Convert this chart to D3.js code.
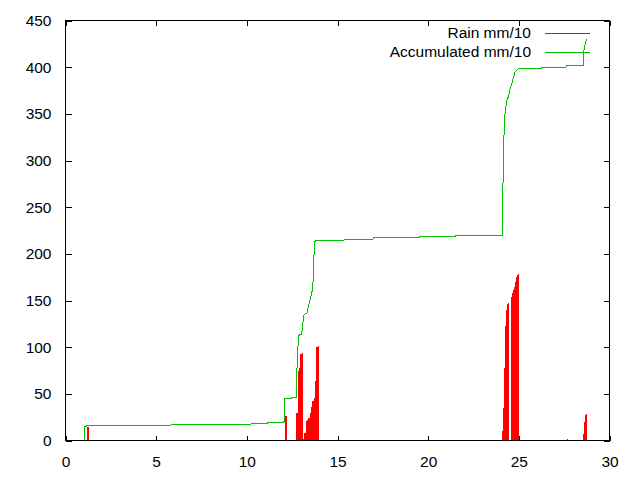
<!DOCTYPE html>
<html>
<head>
<meta charset="utf-8">
<script src="https://cdn.jsdelivr.net/npm/d3@7"></script>
<style>
  html, body { margin: 0; padding: 0; background: #fff; }
  svg { display: block; font-family: "Liberation Sans", Arial, sans-serif; }
</style>
</head>
<body>
<svg id="chart" width="640" height="480"></svg>
<script>
// ---- data ----
const rainDay   = [1.02, 1.21, 10.21,
  12.09, 12.13, 12.73, 12.80, 12.88, 12.95, 13.02, 13.09, 13.17, 13.24, 13.31, 13.39, 13.46, 13.53, 13.61, 13.68, 13.75, 13.83, 13.90,
  21.55,
  24.08, 24.13, 24.19, 24.24, 24.30, 24.35, 24.41, 24.57, 24.63, 24.68, 24.74, 24.79, 24.85, 24.90, 24.96, 25.01,
  27.55, 27.66,
  28.52, 28.60, 28.65, 28.71];
const rainValue = [4, 15, 1,
  26, 26, 29, 75, 78, 93, 93.5, 2, 8, 21, 22, 24, 29, 36, 42, 46, 63.5, 100, 101,
  1,
  10, 35, 78, 123, 140, 146, 147.5, 154, 158, 161, 165, 170, 175, 177, 178, 1.5,
  1, 2,
  7, 20, 27, 28.5];

const accDay   = [1.00, 1.04, 1.047, 1.15, 1.157, 5.80, 5.85, 10.20, 10.23, 11.12, 11.15, 12.05, 12.06, 12.43, 12.45, 12.76,
  12.77, 12.80, 12.875, 12.95, 13.02, 13.07, 13.13, 13.22, 13.31, 13.38, 13.46, 13.54, 13.61, 13.68, 13.72, 13.79,
  15.37, 15.40, 16.95, 17.00, 19.50, 19.55, 21.50, 21.55, 24.09,
  24.11, 24.15, 24.20, 24.28, 24.37, 24.42, 24.52, 24.61, 24.70, 24.79, 25.01, 26.26, 26.28, 27.60, 27.63, 28.56,
  28.57, 28.61, 28.74];
const accValue = [0, 0, 15, 15, 16.5, 16.5, 17, 17, 17.8, 17.8, 19, 19, 44.6, 44.6, 45.7, 45.7,
  89, 96, 112.5, 114, 114, 121, 134, 136, 136, 143, 148, 155, 161, 177, 212.5, 214,
  214.8, 215.5, 215.5, 217.2, 217.2, 219, 219, 219.8, 219.8,
  258, 297, 343, 357, 367, 367, 377, 382, 388.6, 394.6, 399, 399, 399.6, 399.6, 402, 402,
  415, 421, 430.5];

const xTicks = [0, 5, 10, 15, 20, 25, 30];
const yTicks = [0, 50, 100, 150, 200, 250, 300, 350, 400, 450];
const seriesNames = ["Rain mm/10", "Accumulated mm/10"];
const seriesColors = ["#ff0000", "#00c000"];

// ---- layout ----
const svg = d3.select("#chart");
const x = d3.scaleLinear().domain([0, 30]).range([65.5, 609.5]);
const y = d3.scaleLinear().domain([0, 450]).range([440.5, 20.5]);
const barW = 0.072;
const fontSize = 15.5;

// rain bars
const rain = rainDay.map((d, i) => ({ d, v: rainValue[i] }));
svg.append("g").selectAll("rect").data(rain).join("rect")
  .attr("x", r => Math.round(x(r.d)))
  .attr("width", r => Math.max(1, Math.round(x(r.d + barW)) - Math.round(x(r.d))))
  .attr("y", r => Math.round(y(r.v)))
  .attr("height", r => Math.round(y(0)) - Math.round(y(r.v)))
  .attr("fill", seriesColors[0])
  .attr("shape-rendering", "crispEdges");

// accumulated line
const acc = accDay.map((d, i) => [d, accValue[i]]);
svg.append("path")
  .datum(acc)
  .attr("fill", "none")
  .attr("stroke", seriesColors[1])
  .attr("stroke-width", 1)
  .attr("shape-rendering", "crispEdges")
  .attr("d", d3.line().x(p => x(p[0])).y(p => y(p[1])));

// axes (gnuplot style: inward ticks on all four sides)
const fmt = d3.format("d");
const gB = svg.append("g").attr("transform", `translate(0,${y(0)})`)
  .call(d3.axisBottom(x).tickValues(xTicks).tickFormat(fmt).tickSizeInner(-5).tickSizeOuter(0).tickPadding(15));
const gT = svg.append("g").attr("transform", `translate(0,${y(450)})`)
  .call(d3.axisTop(x).tickValues(xTicks).tickFormat("").tickSizeInner(-5).tickSizeOuter(0));
const gL = svg.append("g").attr("transform", `translate(${x(0)},0)`)
  .call(d3.axisLeft(y).tickValues(yTicks).tickFormat(fmt).tickSizeInner(-6).tickSizeOuter(0).tickPadding(14));
const gR = svg.append("g").attr("transform", `translate(${x(30)},0)`)
  .call(d3.axisRight(y).tickValues(yTicks).tickFormat("").tickSizeInner(-6).tickSizeOuter(0));

[gB, gT, gL, gR].forEach(g => {
  g.attr("font-family", null).attr("font-size", null);
  g.selectAll("path.domain").remove();
  g.selectAll("line").attr("stroke", "#000").attr("shape-rendering", "crispEdges");
  g.selectAll("text").attr("fill", "#000").style("font-size", fontSize + "px");
});

// frame
svg.append("rect")
  .attr("x", x(0)).attr("y", y(450))
  .attr("width", x(30) - x(0)).attr("height", y(0) - y(450))
  .attr("fill", "none").attr("stroke", "#000").attr("stroke-width", 1)
  .attr("shape-rendering", "crispEdges");

// legend
const legend = svg.append("g");
seriesNames.forEach((name, i) => {
  const ly = 33.5 + i * 19;
  legend.append("text")
    .attr("x", 531).attr("y", ly + 4.5)
    .attr("text-anchor", "end")
    .style("font-size", fontSize + "px")
    .attr("fill", "#000")
    .text(name);
  legend.append("line")
    .attr("x1", 545).attr("x2", 590)
    .attr("y1", ly).attr("y2", ly)
    .attr("stroke", seriesColors[i]).attr("stroke-width", 1)
    .attr("shape-rendering", "crispEdges");
});
</script>
</body>
</html>
